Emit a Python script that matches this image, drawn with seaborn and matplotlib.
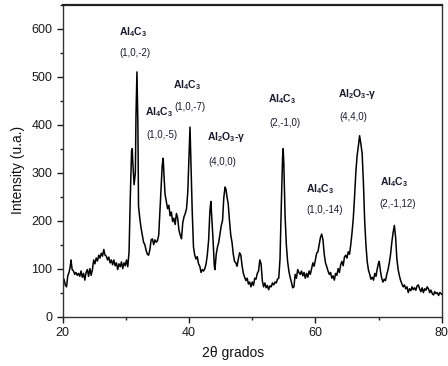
import matplotlib
matplotlib.use('Agg')
import matplotlib.pyplot as plt
import seaborn as sns
import pandas as pd
from matplotlib.ticker import MultipleLocator

# XRD pattern (2theta in degrees, intensity in u.a.)
two_theta = [
    20.0, 20.2, 20.4, 20.6, 20.8, 21.0, 21.2, 21.3, 21.5, 21.7, 21.9, 22.1, 22.3, 22.5, 22.7, 22.9,
    23.1, 23.3, 23.5, 23.7, 23.9, 24.1, 24.3, 24.5, 24.7, 24.9, 25.1, 25.3, 25.5, 25.7, 25.9, 26.1,
    26.3, 26.5, 26.7, 26.9, 27.1, 27.3, 27.5, 27.7, 27.9, 28.1, 28.3, 28.5, 28.7, 28.9, 29.1, 29.3,
    29.5, 29.7, 29.9, 30.1, 30.3, 30.5, 30.7, 30.9, 31.0, 31.1, 31.3, 31.5, 31.6, 31.75, 31.9, 32.0,
    32.2, 32.4, 32.6, 32.8, 33.0, 33.2, 33.4, 33.6, 33.8, 34.0, 34.2, 34.4, 34.6, 34.8, 35.0, 35.2,
    35.5, 35.75, 35.9, 36.05, 36.2, 36.4, 36.6, 36.8, 37.0, 37.2, 37.4, 37.6, 37.8, 38.0, 38.2, 38.4,
    38.6, 38.8, 39.0, 39.2, 39.4, 39.6, 39.8, 40.0, 40.15, 40.3, 40.5, 40.7, 40.9, 41.1, 41.3, 41.5,
    41.7, 41.9, 42.1, 42.3, 42.5, 42.7, 42.9, 43.1, 43.3, 43.45, 43.6, 43.8, 44.0, 44.1, 44.3, 44.5,
    44.7, 44.9, 45.1, 45.3, 45.5, 45.7, 45.85, 46.0, 46.2, 46.4, 46.6, 46.8, 47.0, 47.2, 47.4, 47.6,
    47.8, 48.0, 48.2, 48.4, 48.6, 48.8, 49.0, 49.2, 49.4, 49.6, 49.8, 50.0, 50.2, 50.4, 50.6, 50.8,
    51.0, 51.2, 51.4, 51.6, 51.8, 52.0, 52.2, 52.4, 52.6, 52.8, 53.0, 53.2, 53.4, 53.6, 53.8, 54.0,
    54.2, 54.4, 54.6, 54.8, 54.9, 55.0, 55.2, 55.4, 55.6, 55.8, 56.0, 56.2, 56.4, 56.6, 56.8, 57.0,
    57.2, 57.4, 57.6, 57.8, 58.0, 58.2, 58.4, 58.6, 58.8, 59.0, 59.2, 59.4, 59.6, 59.8, 60.0, 60.2,
    60.4, 60.6, 60.8, 61.0, 61.2, 61.4, 61.6, 61.8, 62.0, 62.2, 62.4, 62.6, 62.8, 63.0, 63.2, 63.4,
    63.6, 63.8, 64.0, 64.2, 64.4, 64.6, 64.8, 65.0, 65.2, 65.4, 65.6, 65.8, 66.0, 66.2, 66.4, 66.6,
    66.8, 67.0, 67.2, 67.4, 67.6, 67.8, 68.0, 68.2, 68.4, 68.6, 68.8, 69.0, 69.2, 69.4, 69.6, 69.8,
    70.0, 70.1, 70.3, 70.5, 70.7, 70.9, 71.1, 71.3, 71.5, 71.7, 71.9, 72.1, 72.3, 72.5, 72.7, 72.9,
    73.1, 73.3, 73.5, 73.7, 73.9, 74.1, 74.3, 74.5, 74.7, 74.9, 75.1, 75.3, 75.5, 75.7, 75.9, 76.1,
    76.3, 76.5, 76.7, 76.9, 77.1, 77.3, 77.5, 77.7, 77.9, 78.1, 78.3, 78.5, 78.7, 78.9, 79.1, 79.3,
    79.5, 79.7, 79.9, 80.0]
intensity = [
    70, 78, 66, 62, 85, 92, 105, 118, 98, 95, 88, 92, 86, 90, 84, 95,
    82, 90, 76, 92, 98, 84, 100, 86, 98, 118, 110, 122, 116, 128, 122, 132,
    126, 140, 128, 126, 118, 124, 112, 118, 108, 118, 106, 112, 98, 110, 104, 114,
    100, 112, 106, 118, 104, 135, 250, 345, 350, 320, 275, 300, 420, 510, 400, 230,
    205, 185, 170, 155, 150, 138, 130, 128, 140, 160, 162, 150, 160, 155, 158, 170,
    250, 315, 330, 290, 255, 240, 225, 232, 210, 218, 198, 205, 192, 215, 205, 180,
    170, 162, 195, 208, 215, 225, 260, 340, 395, 320, 220, 145, 128, 120, 125, 110,
    105, 92, 98, 95, 100, 110, 130, 160, 220, 240, 205, 160, 105, 98, 130, 145,
    155, 172, 190, 200, 248, 270, 265, 250, 235, 200, 170, 155, 130, 115, 112, 105,
    120, 133, 128, 105, 90, 82, 75, 80, 68, 72, 62, 72, 65, 80, 78, 90,
    95, 118, 110, 75, 62, 70, 60, 65, 56, 64, 62, 70, 66, 72, 70, 78,
    80, 120, 230, 330, 350, 320, 210, 150, 115, 95, 82, 72, 60, 62, 88, 80,
    98, 92, 88, 95, 85, 92, 80, 90, 82, 95, 88, 100, 112, 105, 118, 132,
    135, 150, 165, 172, 160, 130, 112, 104, 95, 88, 92, 80, 85, 76, 90, 86,
    100, 92, 108, 115, 106, 124, 128, 122, 135, 130, 150, 175, 205, 250, 300, 335,
    355, 377, 360, 340, 280, 200, 150, 115, 97, 88, 78, 82, 76, 90, 84, 100,
    112, 115, 95, 80, 72, 78, 75, 88, 98, 112, 130, 155, 175, 190, 165, 120,
    98, 85, 75, 68, 62, 66, 58, 62, 50, 58, 54, 62, 56, 60, 55, 64,
    66, 58, 52, 60, 50, 58, 55, 62, 58, 50, 55, 48, 45, 52, 48, 50,
    44, 50, 48, 46]

# peak labels: phase, plane, position of each line
phases = [r'Al$_4$C$_3$', r'Al$_4$C$_3$', r'Al$_4$C$_3$', r'Al$_2$O$_3$-γ', r'Al$_4$C$_3$',
          r'Al$_4$C$_3$', r'Al$_2$O$_3$-γ', r'Al$_4$C$_3$']
planes = ['(1,0,-2)', '(1,0,-5)', '(1,0,-7)', '(4,0,0)', '(2,-1,0)', '(1,0,-14)', '(4,4,0)', '(2,-1,12)']
phase_x = [31.2, 35.2, 39.7, 45.9, 54.7, 60.7, 66.7, 72.4]
phase_y = [592, 426, 483, 374, 454, 265, 464, 280]
plane_x = [31.4, 35.7, 40.2, 45.2, 55.1, 61.4, 66.0, 73.0]
plane_y = [549, 378, 436, 322, 404, 223, 415, 234]

sns.set_style('ticks')
plt.rcParams['font.family'] = ['Liberation Sans', 'DejaVu Sans']
plt.rcParams['mathtext.fontset'] = 'custom'
plt.rcParams['mathtext.rm'] = 'Liberation Sans:bold'
plt.rcParams['mathtext.it'] = 'Liberation Sans:bold'
plt.rcParams['mathtext.default'] = 'rm'

df = pd.DataFrame({'2theta': two_theta, 'I': intensity})

fig = plt.figure(figsize=(4.48, 3.66), dpi=100)
ax = fig.add_axes([0.14, 0.135, 0.846, 0.852])
sns.lineplot(data=df, x='2theta', y='I', color='black', linewidth=1.1, ax=ax, sort=False)

ax.set_xlim(20, 80)
ax.set_ylim(0, 650)
ax.xaxis.set_major_locator(MultipleLocator(20))
ax.xaxis.set_minor_locator(MultipleLocator(10))
ax.yaxis.set_major_locator(MultipleLocator(100))
ax.yaxis.set_minor_locator(MultipleLocator(50))
ax.tick_params(which='major', length=4, width=1, labelsize=9, colors='#1a1a1a', direction='out')
ax.tick_params(which='minor', length=2.5, width=1, direction='out', colors='#222222')
for side in ['left', 'right', 'bottom']:
    ax.spines[side].set_linewidth(1.0)
    ax.spines[side].set_color('#333333')
ax.spines['top'].set_linewidth(1.6)
ax.spines['top'].set_color('#222222')

ax.set_xlabel('2θ grados', fontsize=10, color='#111111')
ax.set_ylabel('Intensity (u.a.)', fontsize=10, color='#111111')
ax.xaxis.set_label_coords(0.45, -0.095)
ax.yaxis.set_label_coords(-0.10, 0.47)

for ph, px, py in zip(phases, phase_x, phase_y):
    ax.text(px, py, ph, fontsize=7.5, fontweight='bold', ha='center', va='center', color='#1a1a2e')
for pl, px, py in zip(planes, plane_x, plane_y):
    ax.text(px, py, pl, fontsize=7, ha='center', va='center', color='#1a1a2e')

fig.savefig('out.png', dpi=100)
